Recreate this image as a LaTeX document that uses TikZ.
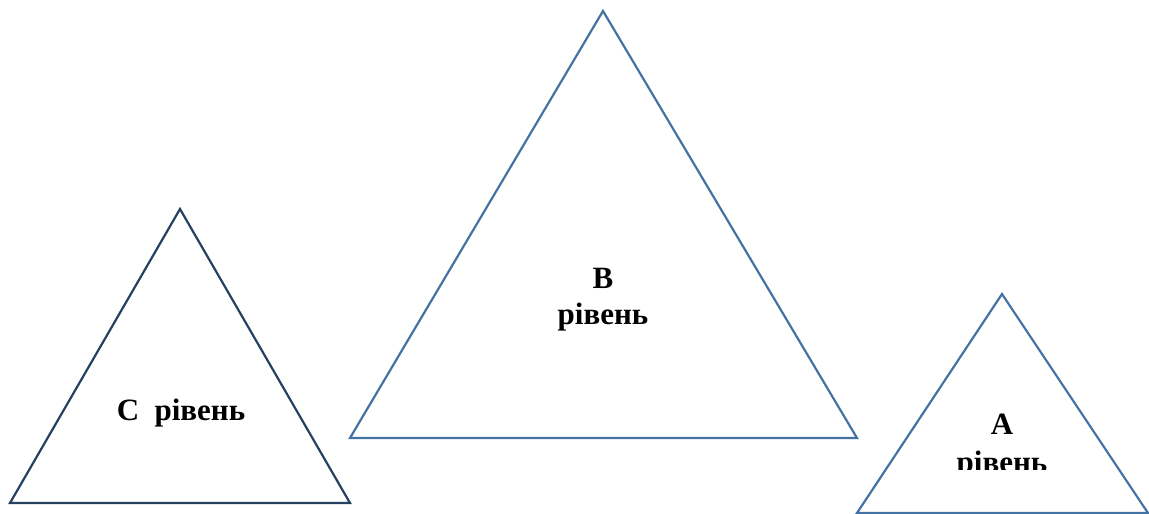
\documentclass[tikz,border=0pt]{standalone}
\usepackage{fontspec}
\setmainfont{Liberation Serif}
\definecolor{navy}{RGB}{38,64,98}
\definecolor{steel}{RGB}{68,114,162}
\begin{document}
\begin{tikzpicture}[x=1pt,y=-1pt,
  tri/.style={line width=2.2pt,line join=miter},
  lbl/.style={font=\fontsize{31}{35}\selectfont\bfseries,inner sep=0pt,anchor=base}]
\useasboundingbox (0,0) rectangle (1149,514);
\draw[tri,navy] (180,209) -- (10,503) -- (350,503) -- cycle;
\draw[tri,steel] (603,11) -- (350,438) -- (857,438) -- cycle;
\draw[tri,steel] (1002,294) -- (857,513) -- (1148,513) -- cycle;
\node[lbl] (c) at (181,420) {C\ \ рівень};
\node[lbl] (b1) at (603,288) {B};
\node[lbl] (b2) at (603,324) {рівень};
\node[lbl] (a1) at (1002,434) {A};
\begin{scope}
\clip (900,440) rectangle (1100,469);
\node[lbl] (a2) at (1002,472) {рівень};
\end{scope}
\end{tikzpicture}
\end{document}
